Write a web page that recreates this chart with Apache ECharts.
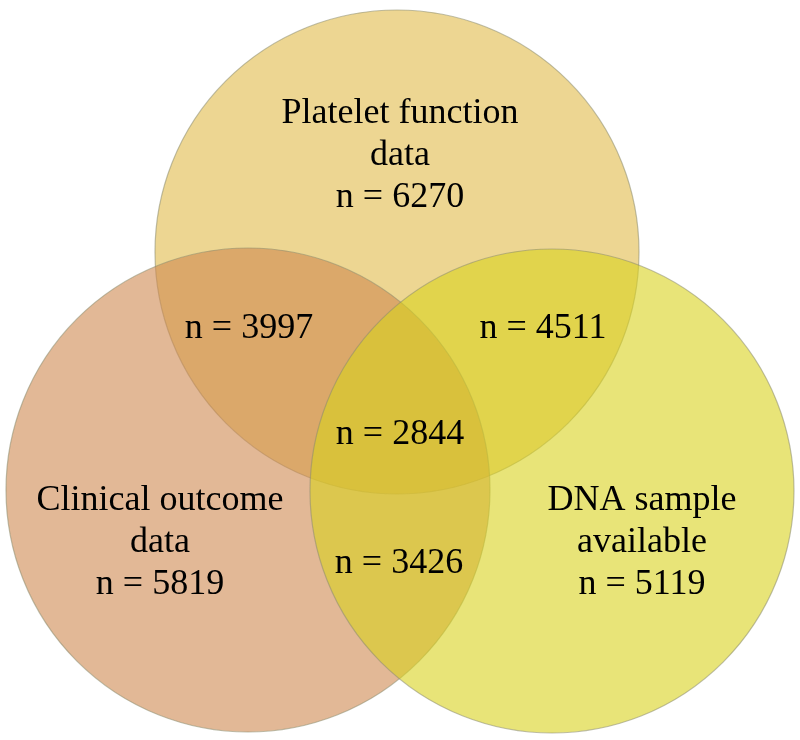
<!DOCTYPE html>
<html>
<head>
<meta charset="utf-8">
<script src="https://cdn.jsdelivr.net/npm/echarts@6/dist/echarts.min.js"></script>
<style>
  html, body { margin: 0; padding: 0; background: #fff; }
  #chart { width: 800px; height: 740px; }
</style>
</head>
<body>
<div id="chart"></div>
<script>
// sets and counts
const setNames = ['Platelet function\ndata', 'Clinical outcome\ndata', 'DNA sample\navailable']
const setCounts = [6270, 5819, 5119]
// overlaps: platelet & clinical, platelet & DNA, clinical & DNA, all three
const pairNames = ['P∩C', 'P∩D', 'C∩D']
const pairCounts = [3997, 4511, 3426]
const allCount = 2844

// layout (pixel units on a hidden 800x740 axis)
const circleCenters = [[397, 252], [248, 490], [552, 491]]
const circleRadius = 242
const setLabelPos = [[400, 156], [160, 543], [642, 543]]
const pairLabelPos = [[249, 329], [543, 329], [399, 564]]
const allLabelPos = [400, 435]
const circleColors = ['rgba(225,187,73,0.6)', 'rgba(207,137,80,0.6)', 'rgba(217,210,30,0.6)']

const myChart = echarts.init(document.getElementById('chart'))

const font = {
  fontFamily: '"Liberation Serif", "Times New Roman", serif',
  fontSize: 36,
  color: '#000',
  lineHeight: 42
}

myChart.setOption({
  animation: false,
  grid: { left: 0, right: 0, top: 0, bottom: 0 },
  xAxis: { type: 'value', min: 0, max: 800, show: false },
  yAxis: { type: 'value', min: 0, max: 740, inverse: true, show: false },
  series: [
    {
      type: 'scatter',
      symbol: 'circle',
      symbolSize: circleRadius * 2,
      silent: true,
      data: circleCenters.map((c, i) => ({
        value: c,
        itemStyle: {
          color: circleColors[i],
          borderColor: 'rgba(140,140,110,0.55)',
          borderWidth: 1.2,
          opacity: 1
        }
      }))
    },
    {
      type: 'scatter',
      symbolSize: 1,
      itemStyle: { color: 'rgba(0,0,0,0)', opacity: 1 },
      silent: true,
      z: 5,
      label: Object.assign({ show: true, position: 'inside', align: 'center', verticalAlign: 'middle' }, font),
      data: [
        ...setNames.map((n, i) => ({ value: setLabelPos[i], label: { formatter: n + '\nn = ' + setCounts[i] } })),
        ...pairNames.map((n, i) => ({ name: n, value: pairLabelPos[i], label: { formatter: 'n = ' + pairCounts[i] } })),
        { value: allLabelPos, label: { formatter: 'n = ' + allCount } }
      ]
    }
  ]
})
</script>
</body>
</html>
